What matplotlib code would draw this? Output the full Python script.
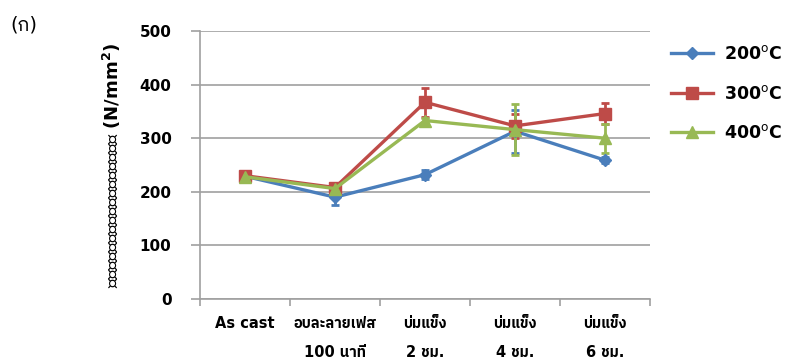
import matplotlib
matplotlib.use("Agg")
import matplotlib.pyplot as plt
from matplotlib import font_manager
from matplotlib.lines import Line2D
import numpy as np

categories = ["As cast", "อบละลายเฟส\n100 นาที", "บ่มแข็ง\n2 ชม.", "บ่มแข็ง\n4 ชม.", "บ่มแข็ง\n6 ชม."]
series_names = ["200$^{\\mathrm{o}}$C", "300$^{\\mathrm{o}}$C", "400$^{\\mathrm{o}}$C"]
s200 = [229, 190, 232, 313, 259]
s300 = [230, 208, 367, 323, 346]
s400 = [228, 206, 333, 316, 300]
e200 = [3, 14, 8, 40, 6]
e300 = [3, 5, 27, 22, 20]
e400 = [3, 5, 5, 48, 27]
yticks = [0, 100, 200, 300, 400, 500]

thai_fonts = []
for f in font_manager.fontManager.ttflist:
    if "Thai" in f.name or "Loma" in f.name or "Garuda" in f.name or "Norasi" in f.name:
        thai_fonts.append(f.name)
fam = ["DejaVu Sans"] + sorted(set(thai_fonts)) + ["Noto Sans", "Liberation Sans"]
plt.rcParams['font.family'] = fam

fig = plt.figure(figsize=(7.86, 3.62), dpi=100)
ax = fig.add_axes([200/786, 1-299/362, 450/786, 268/362])

colors = ["#4A7EBB", "#BE4B48", "#98B954"]
markers = ["D", "s", "^"]
msizes = [6, 8, 8]
x = np.arange(len(categories))
handles = []
for vals, errs, c, m, ms, name in zip([s200, s300, s400], [e200, e300, e400], colors, markers, msizes, series_names):
    ax.errorbar(x, vals, yerr=errs, color=c, marker=m, markersize=ms, lw=2.4,
                elinewidth=2, capsize=3, capthick=2, zorder=3)
    handles.append(Line2D([], [], color=c, marker=m, markersize=ms, lw=2.4, label=name))

ax.set_xlim(-0.5, len(categories) - 0.5)
ax.set_ylim(0, 500)
ax.set_yticks(yticks)
ax.set_yticklabels([str(t) for t in yticks], fontsize=11, fontweight="bold")
ax.grid(axis="y", color="#A0A0A0", lw=1.2)
ax.set_axisbelow(True)
for s in ["top", "right"]:
    ax.spines[s].set_visible(False)
for s in ["left", "bottom"]:
    ax.spines[s].set_color("#A0A0A0")
    ax.spines[s].set_linewidth(1.2)
ax.tick_params(axis="y", length=6.5, color="#A0A0A0", width=1.2, pad=14)
ax.set_xticks(x)
ax.set_xticklabels(categories, fontsize=10.5, fontweight="bold", va="top", linespacing=2.2)
ax.tick_params(axis="x", length=0, pad=12)
ax.set_xticks(np.arange(len(categories) + 1) - 0.5, minor=True)
ax.tick_params(axis="x", which="minor", length=5, color="#A0A0A0", width=1.2)

ax.set_ylabel("ความต้านทานแรงดึง (N/mm$^{\\mathbf{2}}$)", fontsize=13, fontweight="bold", labelpad=12)

fig.text(10/786, 1-25/362, "(ก)", fontsize=14, va="center", ha="left")

leg = ax.legend(handles=handles, loc="upper left", bbox_to_anchor=(668/786, 1-42/362), bbox_transform=fig.transFigure,
                frameon=False, prop={"size": 12.5, "weight": "bold"}, labelspacing=1.22, handlelength=2.4,
                handletextpad=0.6, borderaxespad=0, borderpad=0.2)

fig.savefig("out.png", dpi=100)
